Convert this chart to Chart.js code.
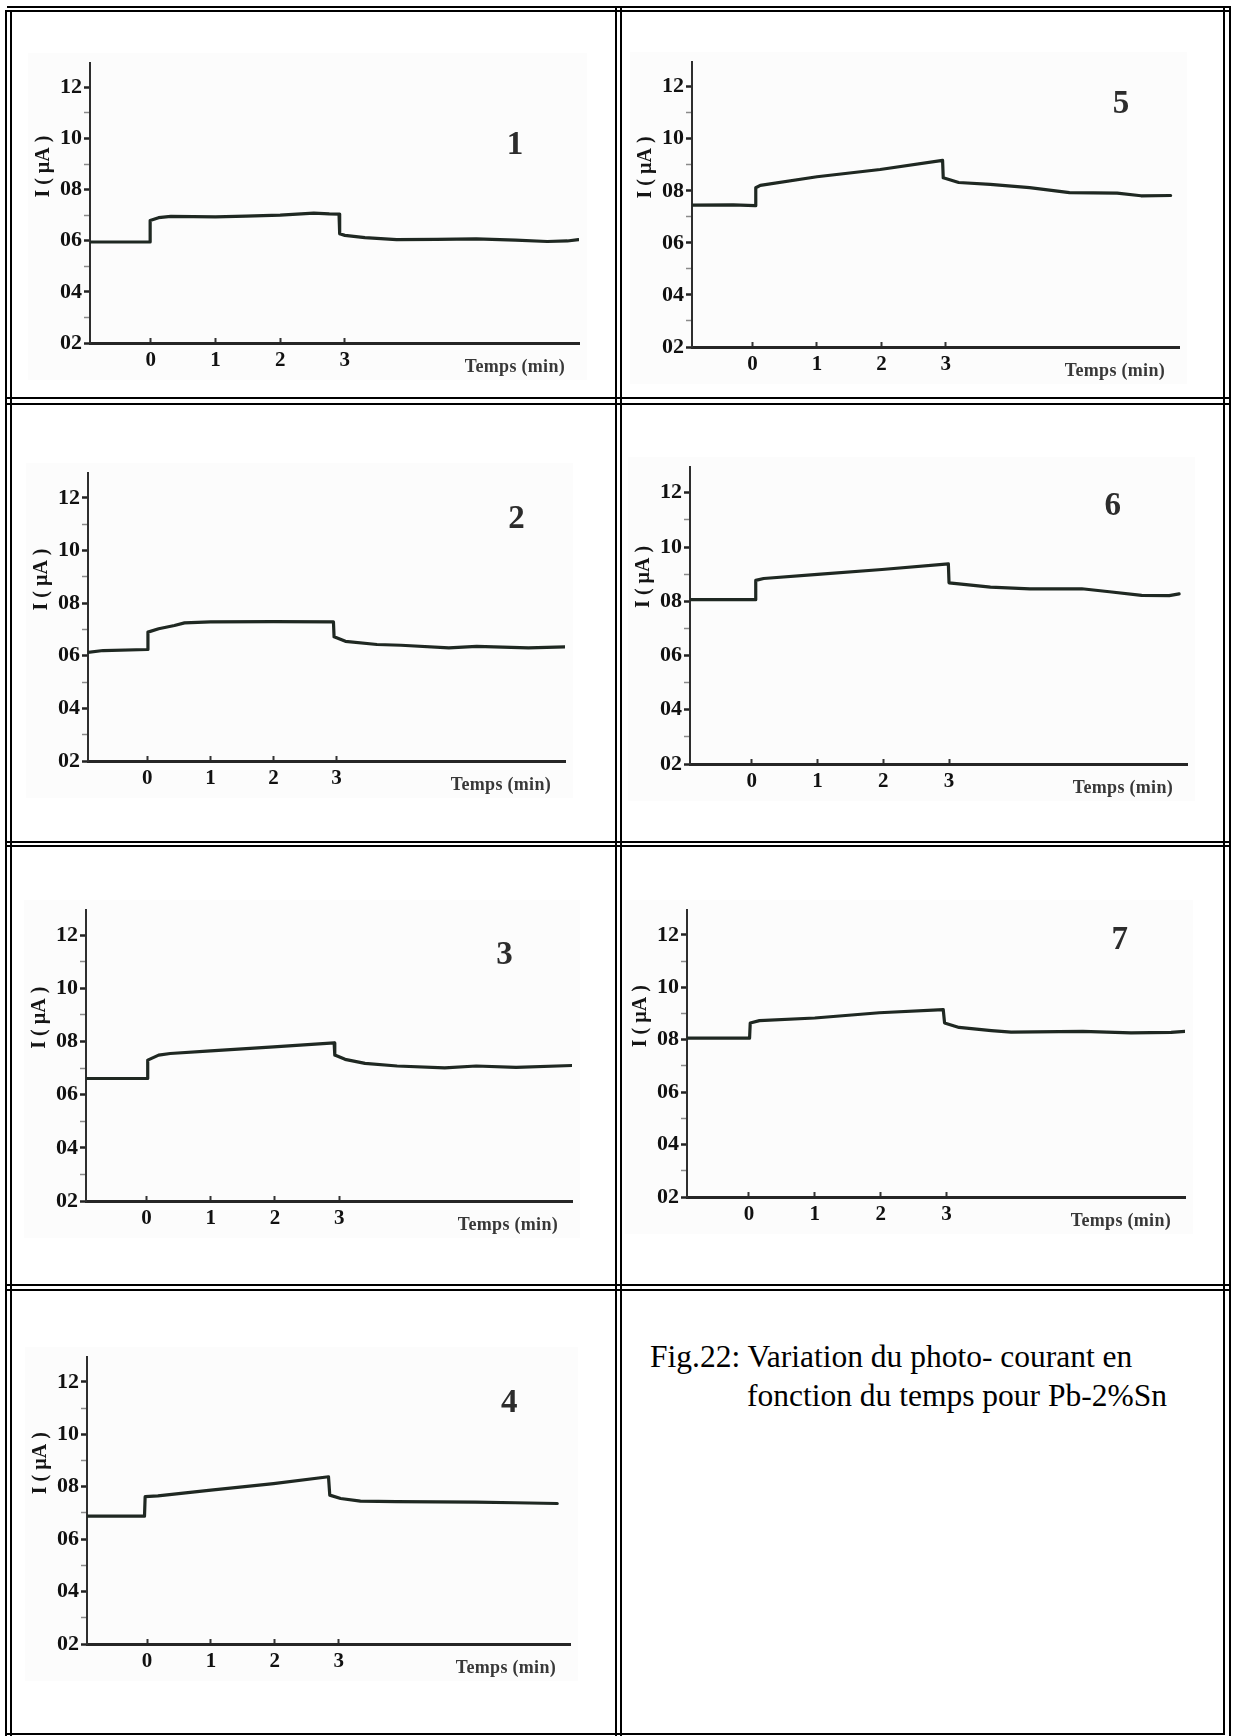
<!DOCTYPE html>
<html>
<head>
<meta charset="utf-8">
<script src="https://cdn.jsdelivr.net/npm/chart.js@4.4.1/dist/chart.umd.min.js"></script>
<style>
    html, body { margin: 0; padding: 0; background: #fff; }
    #page { position: relative; width: 1234px; height: 1736px; overflow: hidden; background: #fff; }
    .h { position: absolute; height: 2px; background: #000; }
    .v { position: absolute; width: 2px; background: #000; }
    canvas { position: absolute; background: #fcfcfc; }
    .cap { position: absolute; white-space: nowrap; font-family: 'Liberation Serif', 'Times New Roman', serif;
           font-size: 31.5px; line-height: 38px; color: #000; }
</style>
</head>
<body>
<div id="page">
    <!-- double lines of the table -->
    <div class="h" style="left:7px;top:6px;width:1224px"></div>
    <div class="h" style="left:5px;top:10px;width:1226px"></div>
    <div class="h" style="left:5px;top:397px;width:1226px"></div>
    <div class="h" style="left:5px;top:403px;width:1226px"></div>
    <div class="h" style="left:5px;top:841px;width:1226px"></div>
    <div class="h" style="left:5px;top:845px;width:1226px"></div>
    <div class="h" style="left:5px;top:1284px;width:1226px"></div>
    <div class="h" style="left:5px;top:1289px;width:1226px"></div>
    <div class="h" style="left:5px;top:1733px;width:1220px"></div>
    <div class="v" style="left:5px;top:10px;height:1726px"></div>
    <div class="v" style="left:10px;top:10px;height:1726px"></div>
    <div class="v" style="left:615px;top:6px;height:1730px"></div>
    <div class="v" style="left:620px;top:6px;height:1730px"></div>
    <div class="v" style="left:1223px;top:6px;height:1729px"></div>
    <div class="v" style="left:1229px;top:6px;height:1730px"></div>

    <canvas id="c1"></canvas>
    <canvas id="c2"></canvas>
    <canvas id="c3"></canvas>
    <canvas id="c4"></canvas>
    <canvas id="c5"></canvas>
    <canvas id="c6"></canvas>
    <canvas id="c7"></canvas>

    <div class="cap" style="left:650px;top:1338px">Fig.22: Variation du photo- courant en</div>
    <div class="cap" style="left:747px;top:1377px">fonction du temps pour Pb-2%Sn</div>
</div>

<script>
// axis ranges and ticks (same for all seven panels)
const xMin = -0.94, xMax = 6.62;
const yMin = 2, yMax = 12.95;
const xTicks = [0, 1, 2, 3];
const yTicks = [2, 3, 4, 5, 6, 7, 8, 9, 10, 11, 12];

// time (min) and photo-current (µA)
const time1 = [-0.93, -0.01, -0.01, 0.12, 0.31, 1.0, 1.47, 2.0, 2.52, 2.76, 2.91, 2.92, 3.0, 3.31, 3.8, 4.42, 5.03, 5.64, 6.13, 6.44, 6.61];
const current1 = [5.95, 5.95, 6.79, 6.9, 6.95, 6.93, 6.96, 7.0, 7.08, 7.05, 7.04, 6.27, 6.21, 6.12, 6.04, 6.05, 6.07, 6.02, 5.97, 5.99, 6.04];

const time2 = [-0.95, -0.7, 0.0, 0.01, 0.18, 0.43, 0.59, 1.0, 2.0, 2.95, 2.96, 3.14, 3.64, 4.02, 4.78, 5.22, 6.04, 6.64];
const current2 = [6.13, 6.2, 6.24, 6.9, 7.03, 7.15, 7.25, 7.29, 7.3, 7.29, 6.72, 6.55, 6.43, 6.4, 6.3, 6.36, 6.3, 6.34];

const time3 = [-0.94, 0.01, 0.02, 0.19, 0.37, 1.0, 1.98, 2.92, 2.93, 3.09, 3.4, 3.9, 4.64, 5.13, 5.75, 6.64];
const current3 = [6.61, 6.61, 7.3, 7.49, 7.55, 7.65, 7.8, 7.95, 7.49, 7.33, 7.18, 7.08, 7.01, 7.08, 7.03, 7.1];

const time4 = [-0.94, -0.04, -0.03, 0.17, 1.0, 1.98, 2.84, 2.86, 3.03, 3.34, 3.9, 5.14, 5.76, 6.42];
const current4 = [6.88, 6.88, 7.62, 7.65, 7.87, 8.12, 8.38, 7.68, 7.55, 7.45, 7.43, 7.41, 7.39, 7.36];

const time5 = [-0.93, -0.3, 0.04, 0.05, 0.12, 1.0, 1.98, 2.95, 2.96, 3.2, 3.69, 4.3, 4.92, 5.66, 6.03, 6.49];
const current5 = [7.45, 7.46, 7.43, 8.12, 8.21, 8.54, 8.82, 9.17, 8.5, 8.32, 8.25, 8.12, 7.93, 7.91, 7.81, 7.82];

const time6 = [-0.96, 0.05, 0.06, 0.18, 1.0, 1.98, 2.99, 3.0, 3.15, 3.63, 4.23, 5.02, 5.44, 5.93, 6.35, 6.5];
const current6 = [8.06, 8.06, 8.77, 8.84, 8.99, 9.17, 9.38, 8.68, 8.64, 8.52, 8.46, 8.46, 8.35, 8.22, 8.21, 8.27];

const time7 = [-0.96, 0.01, 0.02, 0.16, 1.0, 1.98, 2.95, 2.97, 3.19, 3.68, 3.98, 5.07, 5.8, 6.41, 6.62];
const current7 = [8.06, 8.06, 8.64, 8.73, 8.83, 9.03, 9.15, 8.64, 8.47, 8.35, 8.29, 8.32, 8.26, 8.28, 8.32];

// where each plot area sits on the page (px) and where its panel number goes (data coords)
const panels = [
    { id: 'c1', num: '1', t: time1, i: current1, box: { left: 90, top: 63, right: 579, bottom: 343 }, at: [5.63, 9.72] },
    { id: 'c2', num: '2', t: time2, i: current2, box: { left: 88, top: 473, right: 565, bottom: 761 }, at: [5.85, 11.2] },
    { id: 'c3', num: '3', t: time3, i: current3, box: { left: 86, top: 910, right: 572, bottom: 1201 }, at: [5.57, 11.25] },
    { id: 'c4', num: '4', t: time4, i: current4, box: { left: 87, top: 1357, right: 570, bottom: 1644 }, at: [5.67, 11.17] },
    { id: 'c5', num: '5', t: time5, i: current5, box: { left: 692, top: 62, right: 1179, bottom: 347 }, at: [5.72, 11.31] },
    { id: 'c6', num: '6', t: time6, i: current6, box: { left: 690, top: 467, right: 1187, bottom: 764 }, at: [5.49, 11.5] },
    { id: 'c7', num: '7', t: time7, i: current7, box: { left: 687, top: 910, right: 1185, bottom: 1197 }, at: [5.63, 11.78] }
];

const serif = "'Liberation Serif', 'Times New Roman', serif";
const padL = 62, padR = 8, padT = 10, padB = 37;

// panel number + axis titles, placed with the chart's own scales
const panelText = {
    id: 'panelText',
    afterDraw(chart, args, opts) {
        const ctx = chart.ctx;
        const xs = chart.scales.x, ys = chart.scales.y, area = chart.chartArea;
        ctx.save();
        ctx.textBaseline = 'middle';

        ctx.fillStyle = '#2c2c2c';
        ctx.textAlign = 'center';
        ctx.font = 'bold 33px ' + serif;
        ctx.fillText(opts.num, xs.getPixelForValue(opts.at[0]), ys.getPixelForValue(opts.at[1]));

        ctx.fillStyle = '#383838';
        ctx.textAlign = 'right';
        ctx.font = 'bold 18px ' + serif;
        ctx.letterSpacing = '0.3px';
        ctx.fillText('Temps (min)', area.right - 14, area.bottom + 24);
        ctx.letterSpacing = '0px';

        ctx.fillStyle = '#151515';
        ctx.translate(area.left - 46, ys.getPixelForValue(8.9));
        ctx.rotate(-Math.PI / 2);
        ctx.textAlign = 'center';
        ctx.font = 'bold 20px ' + serif;
        ctx.fillText('I ( µA )', 0, 0);
        ctx.restore();
    }
};

function fixedSize(w, h) {
    return (scale) => {
        if (w !== null) scale.width = w;
        if (h !== null) scale.height = h;
        scale.paddingTop = 0; scale.paddingBottom = 0;
        scale.paddingLeft = 0; scale.paddingRight = 0;
    };
}

panels.forEach(p => {
    const canvas = document.getElementById(p.id);
    const w = p.box.right - p.box.left + padL + padR;
    const h = p.box.bottom - p.box.top + padT + padB;
    canvas.width = w;
    canvas.height = h;
    canvas.style.width = w + 'px';
    canvas.style.height = h + 'px';
    canvas.style.left = (p.box.left - padL) + 'px';
    canvas.style.top = (p.box.top - padT) + 'px';

    new Chart(canvas.getContext('2d'), {
        type: 'line',
        data: {
            datasets: [{
                data: p.t.map((t, k) => ({ x: t, y: p.i[k] })),
                borderColor: '#1f2822',
                borderWidth: 3.2,
                pointRadius: 0,
                tension: 0,
                fill: false,
                borderJoinStyle: 'round',
                borderCapStyle: 'round'
            }]
        },
        options: {
            responsive: false,
            animation: false,
            events: [],
            devicePixelRatio: 1,
            layout: { padding: { left: 0, right: padR, top: padT, bottom: 0 } },
            plugins: {
                legend: { display: false },
                tooltip: { enabled: false },
                panelText: { num: p.num, at: p.at }
            },
            scales: {
                x: {
                    type: 'linear',
                    min: xMin,
                    max: xMax,
                    afterBuildTicks: (scale) => { scale.ticks = xTicks.map(v => ({ value: v })); },
                    afterFit: fixedSize(null, padB),
                    border: { display: true, color: '#262626', width: 3 },
                    grid: { drawOnChartArea: false, drawTicks: true, tickLength: -5, tickColor: '#333', tickWidth: 2 },
                    ticks: {
                        autoSkip: false, maxRotation: 0, padding: 10,
                        color: '#111',
                        font: { family: serif, size: 21, weight: 'bold' },
                        callback: (v) => String(v)
                    }
                },
                y: {
                    type: 'linear',
                    min: yMin,
                    max: yMax,
                    afterBuildTicks: (scale) => { scale.ticks = yTicks.map(v => ({ value: v })); },
                    afterFit: fixedSize(padL, null),
                    border: { display: true, color: '#2e2e2e', width: 2 },
                    grid: {
                        drawOnChartArea: false, drawTicks: true, tickLength: 6,
                        tickColor: (c) => c.tick && c.tick.value % 2 === 0 ? '#222' : '#8a8a8a',
                        tickWidth: (c) => c.tick && c.tick.value % 2 === 0 ? 2.5 : 1.5
                    },
                    ticks: {
                        autoSkip: false, padding: 2,
                        color: '#111',
                        font: { family: serif, size: 22, weight: 'bold' },
                        callback: (v) => v % 2 === 0 ? String(v).padStart(2, '0') : ''
                    }
                }
            }
        },
        plugins: [panelText]
    });
});
</script>
</body>
</html>
